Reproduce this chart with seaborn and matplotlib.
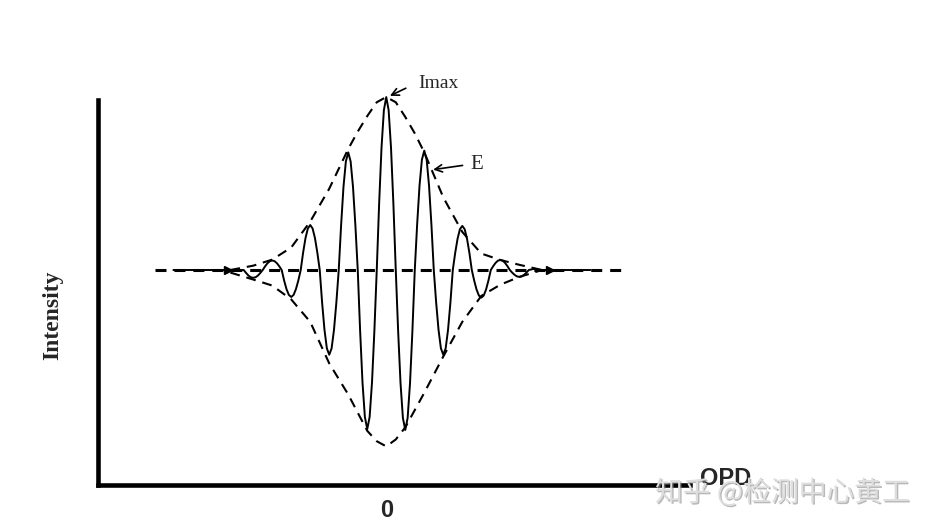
import matplotlib
matplotlib.use("Agg")
import seaborn as sns
from matplotlib import pyplot as plt
import matplotlib.patheffects as pe

# white-light interferogram
# OPD in fringe periods (0 = zero path difference), intensity relative to Imax
# one row per half fringe
opd = [-5.6, -4.0,
       -3.75, -3.6875, -3.625, -3.5625, -3.5, -3.4375, -3.375, -3.3125,
       -3.25, -3.1875, -3.125, -3.0625, -3.0, -2.9375, -2.875, -2.8125,
       -2.75, -2.6875, -2.625, -2.5625, -2.5, -2.4375, -2.375, -2.3125,
       -2.25, -2.1875, -2.125, -2.0625, -2.0, -1.9375, -1.875, -1.8125,
       -1.75, -1.6875, -1.625, -1.5625, -1.5, -1.4375, -1.375, -1.3125,
       -1.25, -1.1875, -1.125, -1.0625, -1.0, -0.9375, -0.875, -0.8125,
       -0.75, -0.6875, -0.625, -0.5625, -0.5, -0.4375, -0.375, -0.3125,
       -0.25, -0.1875, -0.125, -0.0625, 0.0, 0.0625, 0.125, 0.1875,
       0.25, 0.3125, 0.375, 0.4375, 0.5, 0.5625, 0.625, 0.6875,
       0.75, 0.8125, 0.875, 0.9375, 1.0, 1.0625, 1.125, 1.1875,
       1.25, 1.3125, 1.375, 1.4375, 1.5, 1.5625, 1.625, 1.6875,
       1.75, 1.8125, 1.875, 1.9375, 2.0, 2.0625, 2.125, 2.1875,
       2.25, 2.3125, 2.375, 2.4375, 2.5, 2.5625, 2.625, 2.6875,
       2.75, 2.8125, 2.875, 2.9375, 3.0, 3.0625, 3.125, 3.1875,
       3.25, 3.3125, 3.375, 3.4375, 3.5, 3.5625, 3.625, 3.6875,
       3.75, 3.875, 4.0, 5.37]
intensity = [0.0, 0.0,
             0.0, -0.017, -0.032, -0.042, -0.045, -0.042, -0.032, -0.017,
             0.0, 0.021, 0.039, 0.051, 0.055, 0.051, 0.039, 0.021,
             0.0, -0.060, -0.110, -0.144, -0.156, -0.144, -0.110, -0.060,
             0.0, 0.100, 0.184, 0.240, 0.260, 0.240, 0.184, 0.100,
             0.0, -0.188, -0.346, -0.453, -0.490, -0.453, -0.346, -0.188,
             0.0, 0.260, 0.481, 0.628, 0.680, 0.628, 0.481, 0.260,
             0.0, -0.352, -0.650, -0.850, -0.920, -0.850, -0.650, -0.352,
             0.0, 0.383, 0.707, 0.924, 1.000, 0.924, 0.707, 0.383,
             0.0, -0.354, -0.654, -0.855, -0.925, -0.855, -0.654, -0.354,
             0.0, 0.264, 0.488, 0.638, 0.690, 0.638, 0.488, 0.264,
             0.0, -0.188, -0.346, -0.453, -0.490, -0.453, -0.346, -0.188,
             0.0, 0.098, 0.180, 0.236, 0.255, 0.236, 0.180, 0.098,
             0.0, -0.061, -0.113, -0.148, -0.160, -0.148, -0.113, -0.061,
             0.0, 0.022, 0.041, 0.054, 0.058, 0.054, 0.041, 0.022,
             0.0, -0.015, -0.028, -0.037, -0.040, -0.037, -0.028, -0.015,
             0.0, 0.006, 0.0, 0.0]

# dashed envelope E
env_up_opd = [-4.1, -3.5, -3.0, -2.5, -2.0, -1.5, -1.0, -0.75, -0.5, -0.25, 0.0,
              0.25, 0.5, 0.75, 1.0, 1.5, 2.0, 2.5, 3.0, 3.5, 4.1]
env_up = [0.0, 0.025, 0.06, 0.13, 0.28, 0.47, 0.70, 0.80, 0.89, 0.97, 1.0,
          0.97, 0.885, 0.79, 0.68, 0.42, 0.22, 0.095, 0.058, 0.03, 0.0]
env_lo_opd = [-4.1, -3.5, -3.0, -2.5, -2.0, -1.5, -1.0, -0.5, -0.25, 0.0,
              0.25, 0.5, 1.0, 1.5, 2.0, 2.5, 3.0, 3.5, 4.1]
env_lo = [-0.015, -0.055, -0.09, -0.17, -0.30, -0.54, -0.72, -0.93, -0.99, -1.02,
          -0.98, -0.91, -0.71, -0.50, -0.30, -0.15, -0.085, -0.04, 0.0]

baseline_opd = [-6.08, 6.21]
baseline = [0.0, 0.0]
arrow_opd = [-4.15, 4.3]

sns.set_style("white")
plt.rcParams['font.family'] = ['DejaVu Sans']

fig = plt.figure(figsize=(9.36, 5.31), dpi=100)
ax = fig.add_axes([0.1052, 0.0857, 0.632, 0.726])

sns.lineplot(x=baseline_opd, y=baseline, ax=ax, color='black', lw=2.2,
             linestyle=(0, (3.6, 2.6)), estimator=None)
sns.lineplot(x=env_up_opd, y=env_up, ax=ax, color='black', lw=1.5,
             linestyle=(0, (4.7, 3.3)), estimator=None, clip_on=False)
sns.lineplot(x=env_lo_opd, y=env_lo, ax=ax, color='black', lw=1.5,
             linestyle=(0, (4.7, 3.3)), estimator=None)
sns.lineplot(x=opd, y=intensity, ax=ax, color='black', lw=1.4,
             estimator=None, sort=False, clip_on=False)
ax.plot(arrow_opd, [0, 0], ls='none', marker='>', ms=6, color='black')

ax.set_xlim(-7.57, 7.99)
ax.set_ylim(-1.246, 0.983)

for side in ['top', 'right']:
    ax.spines[side].set_visible(False)
for side in ['left', 'bottom']:
    ax.spines[side].set_linewidth(3.3)
    ax.spines[side].set_color('black')

ax.set_yticks([])
ax.set_xticks([0])
ax.set_xticklabels(['0'], family='Liberation Sans', fontweight='bold', fontsize=17)
ax.tick_params(axis='x', direction='in', length=6, width=1.5, pad=10, color='black')

arrow = dict(arrowstyle='->', lw=1.2, color='black', mutation_scale=13)
ax.annotate('', xy=(0.03, 1.0), xytext=(0.58, 1.058), arrowprops=arrow,
            annotation_clip=False)
ax.text(0.84, 1.052, 'Imax', family='Liberation Serif', fontsize=14,
        va='baseline', ha='left')
ax.annotate('', xy=(1.16, 0.578), xytext=(2.08, 0.607), arrowprops=arrow,
            annotation_clip=False)
ax.text(2.21, 0.584, 'E', family='Liberation Serif', fontsize=15,
        va='baseline', ha='left')

fig.text(53 / 936, 1 - 315 / 531, 'Intensity', family='Liberation Serif',
         fontweight='bold', fontsize=17, rotation=90, ha='center', va='center')
fig.text(700 / 936, 1 - 485 / 531, 'OPD', family='Liberation Sans',
         fontweight='bold', fontsize=17, ha='left', va='baseline')

# watermark sits on top of the axis end, as in the source image
fig.text(655 / 936, 1 - 493 / 531, '知乎 @检测中心黄工',
         family=['Noto Sans CJK SC', 'DejaVu Sans'], fontsize=20,
         color='#dedede', ha='left', va='center', zorder=5,
         path_effects=[pe.withSimplePatchShadow(offset=(1, -1),
                                                shadow_rgbFace='#8a8a8a', alpha=0.6)])

fig.savefig('out.png', dpi=100)
